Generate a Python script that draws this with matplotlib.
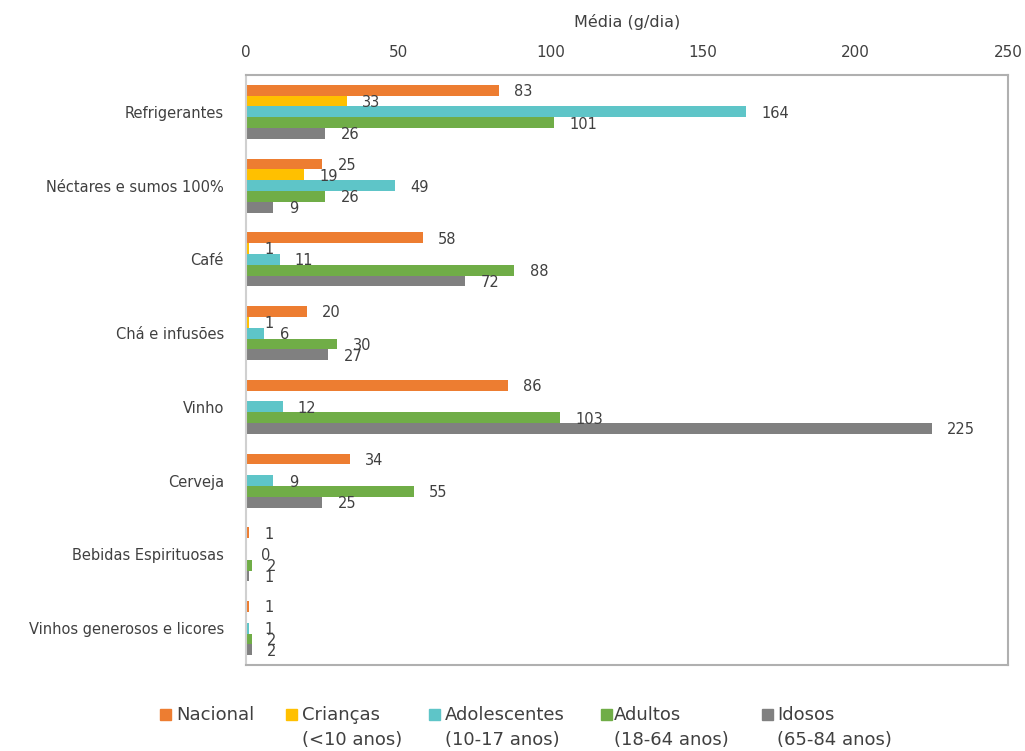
import numpy as np
import matplotlib
matplotlib.use("Agg")
import matplotlib.pyplot as plt
from matplotlib.patches import Rectangle

categories = ["Refrigerantes", "Néctares e sumos 100%", "Café", "Chá e infusões",
              "Vinho", "Cerveja", "Bebidas Espirituosas", "Vinhos generosos e licores"]
series_names = ["Nacional", "Crianças\n(<10 anos)", "Adolescentes\n(10-17 anos)",
                "Adultos\n(18-64 anos)", "Idosos\n(65-84 anos)"]
nacional = [83, 25, 58, 20, 86, 34, 1, 1]
criancas = [33, 19, 1, 1, None, None, None, None]
adolescentes = [164, 49, 11, 6, 12, 9, 0, 1]
adultos = [101, 26, 88, 30, 103, 55, 2, 2]
idosos = [26, 9, 72, 27, 225, 25, 1, 2]
colors = ["#ED7D31", "#FFC000", "#5EC5C8", "#70AD47", "#808080"]
xticks = [0, 50, 100, 150, 200, 250]

all_series = [nacional, criancas, adolescentes, adultos, idosos]
TXT = "#404040"

fig = plt.figure(figsize=(10.25, 7.51), dpi=100)
ax = fig.add_axes([246/1025, 1-665/751, (1008-246)/1025, (665-75)/751])

y = np.arange(len(categories))
h = 0.146
for i, (vals, col) in enumerate(zip(all_series, colors)):
    off = (i - 2) * h
    for j, v in enumerate(vals):
        if v is None:
            continue
        ax.barh(y[j] + off, v, height=h, color=col, edgecolor="none")
        ax.annotate(str(v), xy=(v, y[j] + off), xytext=(11, -1),
                    textcoords="offset points", va="center", ha="left",
                    fontsize=10.5, color=TXT)

ax.set_xlim(0, 250)
ax.set_ylim(len(categories) - 0.5, -0.5)
ax.set_yticks(y)
ax.set_yticklabels(categories, fontsize=10.5, color=TXT)
ax.set_xticks(xticks)
ax.set_xticklabels([str(t) for t in xticks], fontsize=11, color=TXT)
ax.xaxis.tick_top()
ax.xaxis.set_label_position("top")
ax.tick_params(axis="x", length=0, pad=10.5)
ax.tick_params(axis="y", length=0, pad=16)
ax.set_xlabel("Média (g/dia)", fontsize=11.5, color=TXT, labelpad=13.5)

for s in ["top", "right", "bottom"]:
    ax.spines[s].set_color("#B0B0B0")
    ax.spines[s].set_linewidth(1.5)
ax.spines["left"].set_color("#D0D0D0")
ax.spines["left"].set_linewidth(1.5)

# Legend (manual layout to match multi-line labels)
sq_x = [160, 286, 429, 601, 762]
txt_x = [176, 302, 445, 614, 777]
W, H = 1025, 751
for name, col, sx, tx in zip(series_names, colors, sq_x, txt_x):
    fig.patches.append(Rectangle((sx / W, 1 - 720 / H), 11 / W, 11 / H,
                                 transform=fig.transFigure, color=col))
    lines = name.split("\n")
    fig.text(tx / W, 1 - 715 / H, lines[0], fontsize=13, color=TXT,
             va="center", ha="left")
    if len(lines) > 1:
        fig.text(tx / W, 1 - 740 / H, lines[1], fontsize=13, color=TXT,
                 va="center", ha="left")

fig.savefig("out.png", dpi=100)
